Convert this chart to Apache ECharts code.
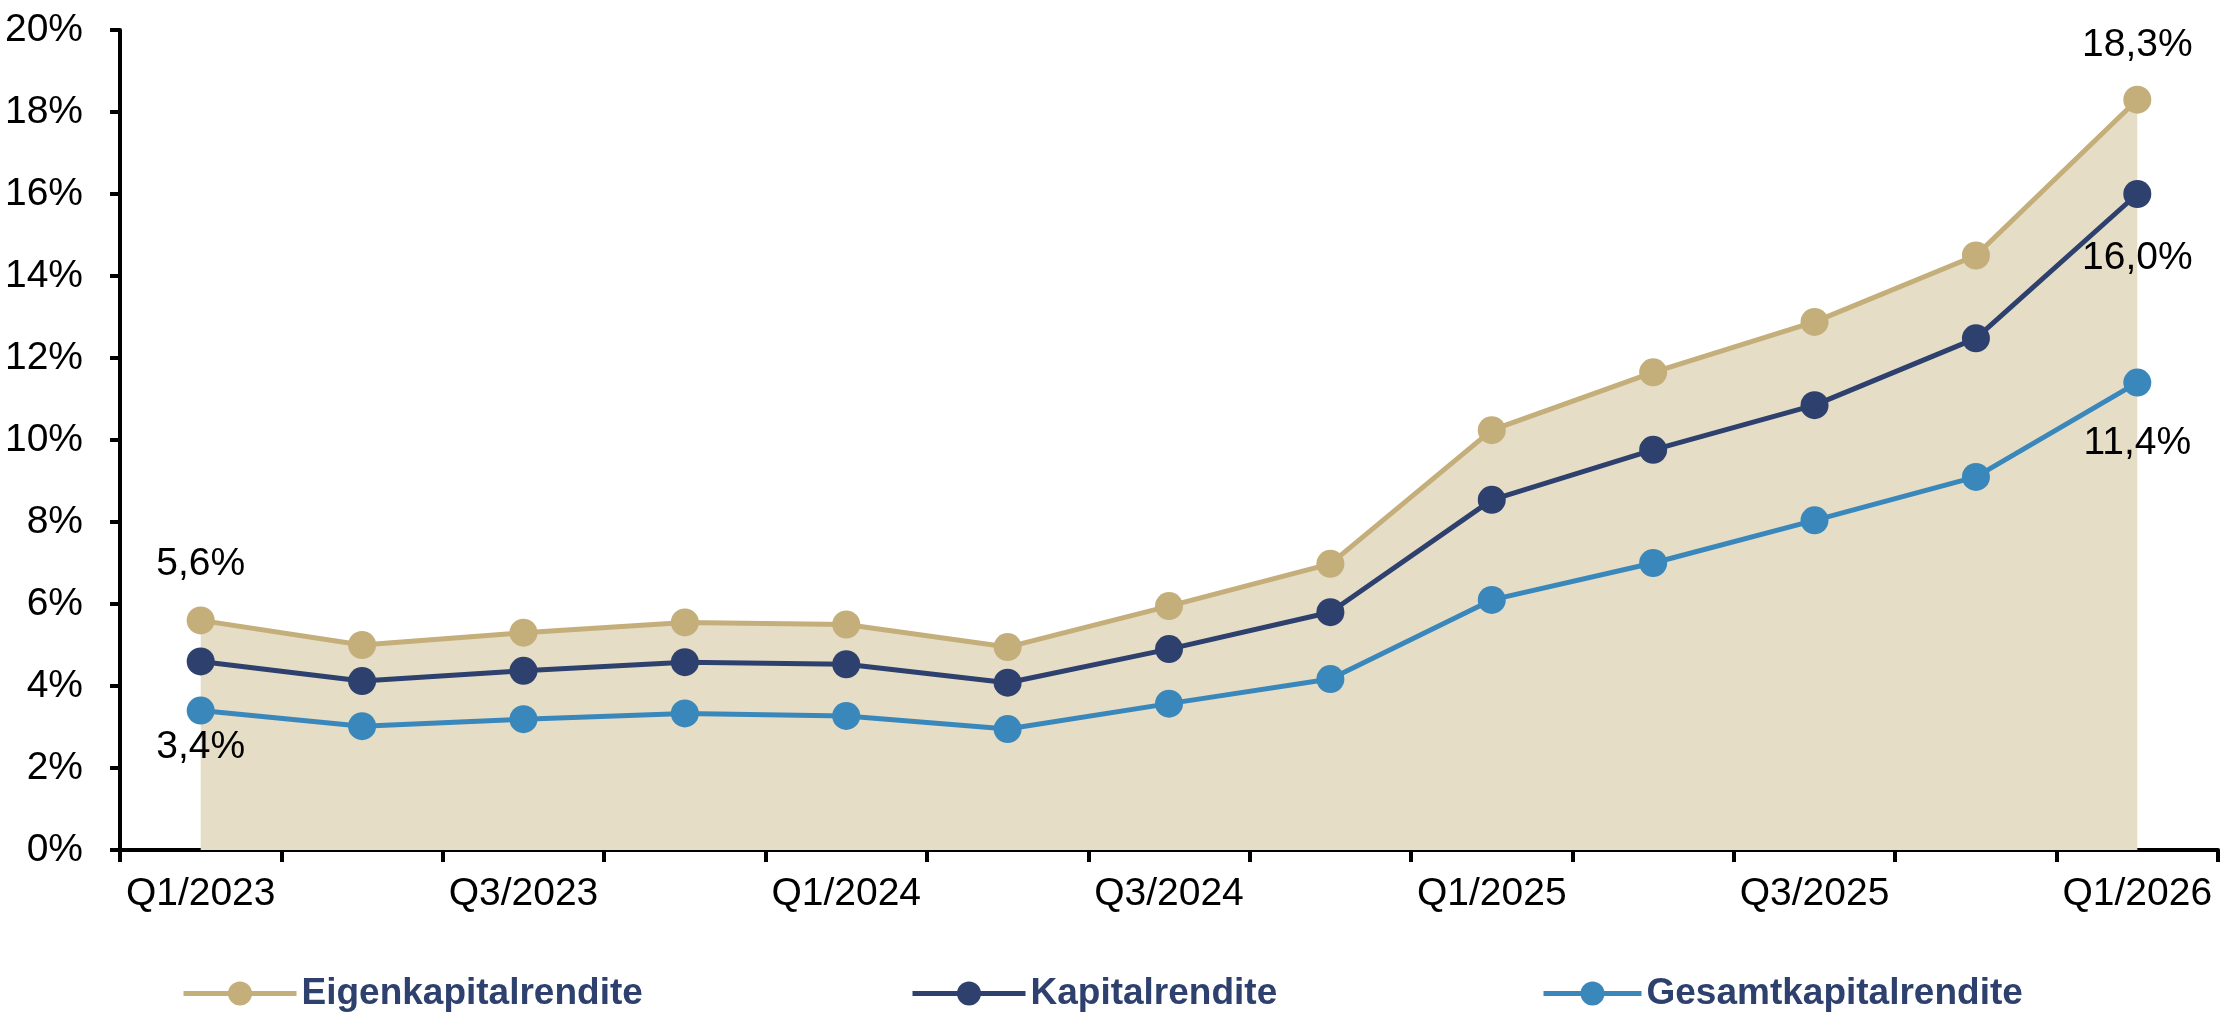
<!DOCTYPE html>
<html>
<head>
<meta charset="utf-8">
<script src="https://cdn.jsdelivr.net/npm/echarts@6/dist/echarts.min.js"></script>
<style>
  html, body { margin: 0; padding: 0; background: #fff; }
  #chart { width: 2232px; height: 1032px; }
</style>
</head>
<body>
<div id="chart"></div>
<script>
// quarters on the x axis
var quarters = ['Q1/2023', 'Q2/2023', 'Q3/2023', 'Q4/2023', 'Q1/2024', 'Q2/2024', 'Q3/2024',
                'Q4/2024', 'Q1/2025', 'Q2/2025', 'Q3/2025', 'Q4/2025', 'Q1/2026'];

// values in percent
var eigenkapital = [5.6, 5.0, 5.3, 5.55, 5.5, 4.95, 5.95, 6.98, 10.24, 11.65, 12.88, 14.5, 18.3];
var kapital      = [4.6, 4.12, 4.37, 4.58, 4.53, 4.08, 4.9, 5.8, 8.54, 9.76, 10.85, 12.48, 16.0];
var gesamt       = [3.4, 3.02, 3.19, 3.33, 3.27, 2.95, 3.57, 4.17, 6.1, 7.0, 8.04, 9.1, 11.4];

var yTicks = { min: 0, max: 20, interval: 2 };

var FONT = 'Liberation Sans, Arial, sans-serif';
var FS = 39;

function fmt(v) {
    return v.toFixed(1).replace('.', ',') + '%';
}

// only first / last points carry a value label
function withLabels(values, labelCfg) {
    return values.map(function (v, i) {
        if (labelCfg[i]) {
            return {
                value: v,
                label: {
                    show: true,
                    position: labelCfg[i].pos,
                    distance: labelCfg[i].dist,
                    formatter: function (p) { return fmt(p.value); },
                    color: '#000',
                    fontSize: FS,
                    fontFamily: FONT
                }
            };
        }
        return v;
    });
}

var last = quarters.length - 1;
var lblEigen = {}; lblEigen[0] = { pos: 'top', dist: 23 }; lblEigen[last] = { pos: 'top', dist: 21 };
var lblKap = {}; lblKap[last] = { pos: 'bottom', dist: 31 };
var lblGes = {}; lblGes[0] = { pos: 'bottom', dist: 3 }; lblGes[last] = { pos: 'bottom', dist: 27 };

var colEigen = '#c4ae7a';
var colKap = '#2e416e';
var colGes = '#3a88bb';

var chart = echarts.init(document.getElementById('chart'));

function lineSeries(name, values, color, lbl, area) {
    var s = {
        name: name,
        type: 'line',
        data: withLabels(values, lbl),
        symbol: 'circle',
        symbolSize: 28,
        lineStyle: { color: color, width: 5 },
        itemStyle: { color: color },
        emphasis: { disabled: true },
        animation: false
    };
    if (area) s.areaStyle = { color: '#e6ddc6', opacity: 1 };
    return s;
}

var legendText = { color: '#2e416e', fontSize: 37, fontWeight: 'bold', fontFamily: FONT };
function legendAt(name, left, w) {
    return {
        data: [name], left: left, top: 970, itemWidth: w, itemHeight: 30,
        lineStyle: { width: 5 }, textStyle: legendText, selectedMode: false
    };
}

var option = {
    backgroundColor: '#fff',
    grid: { left: 120, right: 14, top: 30, bottom: 182 },
    legend: [
        legendAt('Eigenkapitalrendite', 176, 113),
        legendAt('Kapitalrendite', 905, 113),
        legendAt('Gesamtkapitalrendite', 1536, 98)
    ],
    xAxis: {
        type: 'category',
        data: quarters,
        boundaryGap: true,
        axisLine: { lineStyle: { color: '#000', width: 4 } },
        axisTick: { show: true, interval: 0, length: 12, lineStyle: { color: '#000', width: 4 } },
        axisLabel: { interval: 1, color: '#000', fontSize: FS, fontFamily: FONT, margin: 25 }
    },
    yAxis: {
        type: 'value',
        min: yTicks.min,
        max: yTicks.max,
        interval: yTicks.interval,
        splitLine: { show: false },
        axisLine: { show: true, lineStyle: { color: '#000', width: 4 } },
        axisTick: { show: true, length: 10, lineStyle: { color: '#000', width: 4 } },
        axisLabel: { formatter: '{value}%', color: '#000', fontSize: FS, fontFamily: FONT, margin: 37 }
    },
    series: [
        lineSeries('Eigenkapitalrendite', eigenkapital, colEigen, lblEigen, true),
        lineSeries('Kapitalrendite', kapital, colKap, lblKap, false),
        lineSeries('Gesamtkapitalrendite', gesamt, colGes, lblGes, false)
    ]
};

chart.setOption(option);
window.onresize = function () { chart.resize(); };
</script>
</body>
</html>
